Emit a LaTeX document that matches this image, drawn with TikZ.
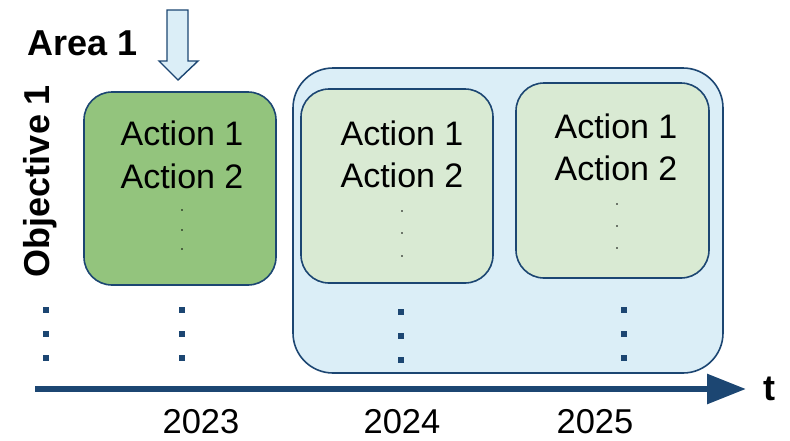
\documentclass[tikz,border=0pt]{standalone}
\usepackage{fontspec}
\setmainfont{Liberation Sans}
\usetikzlibrary{arrows.meta}
\definecolor{dblue}{HTML}{1C4672}
\definecolor{lblue}{HTML}{DBEEF7}
\definecolor{dgreen}{HTML}{93C47D}
\definecolor{lgreen}{HTML}{D9EAD3}
\tikzset{
  actbox/.style={draw=dblue, line width=1.6pt},
  acttext/.style={font=\fontsize{34}{42}\selectfont, align=center, inner sep=0pt},
  sdot/.style={fill=black, circle, inner sep=0pt, minimum size=1.8pt},
  bdot/.style={fill=dblue, inner sep=0pt, minimum size=6pt},
  lbl/.style={font=\fontsize{36}{40}\selectfont\bfseries, inner sep=0pt},
  yr/.style={font=\fontsize{34.5}{40}\selectfont, inner sep=0pt},
}
\begin{document}
\begin{tikzpicture}[x=1pt,y=-1pt]
\useasboundingbox (0,0) rectangle (790,440);
% outer blue box
\draw[actbox, fill=lblue, rounded corners=40pt] (293,68) rectangle (723,373);
% green box
\draw[actbox, fill=dgreen, rounded corners=28pt] (84,92) rectangle (276,285);
\draw[actbox, fill=lgreen, rounded corners=28pt] (301,89) rectangle (493,283);
\draw[actbox, fill=lgreen, rounded corners=28pt] (516,83) rectangle (709,278);
% texts
\node[acttext] (g1) at (182,133) {Action 1};
\node[acttext] (g2) at (182,176) {Action 2};
\node[acttext] (b1) at (402,133) {Action 1};
\node[acttext] (b2) at (402,175) {Action 2};
\node[acttext] (c1) at (616,126) {Action 1};
\node[acttext] (c2) at (616,168) {Action 2};
% small dots
\foreach \y [count=\i] in {210,230,249} \node[sdot] (gd\i) at (182,\y) {};
\foreach \y [count=\i] in {211,233,256} \node[sdot] (bd\i) at (402,\y) {};
\foreach \y [count=\i] in {204,226,248} \node[sdot] (cd\i) at (617,\y) {};
% big dots
\foreach \y [count=\i] in {310,334,358} {
  \node[bdot] (d0\i) at (46,\y) {};
  \node[bdot] (d1\i) at (182,\y) {};
  \node[bdot] (d3\i) at (624,\y) {};
}
\foreach \y [count=\i] in {312,336,360} \node[bdot] (d2\i) at (401,\y) {};
% labels
\node[lbl, anchor=base west] (area) at (27,55) {Area 1};
\node[lbl, rotate=90] (obj) at (40,181) {Objective 1};
% down arrow
\draw[line width=1.4pt, draw=dblue, fill=lblue, line join=miter]
  (167,10) -- (188,10) -- (188,61) -- (198,61) -- (178,80) -- (159,61) -- (167,61) -- cycle;
% timeline
\coordinate (t0) at (35,389);
\coordinate (t1) at (746,389);
\draw[dblue, line width=6pt, -{Triangle[length=39pt,width=29pt]}] (t0) -- (t1);
\node[lbl] (t) at (769,389) {t};
% years
\node[yr] (y23) at (201,422) {2023};
\node[yr] (y24) at (402,422) {2024};
\node[yr] (y25) at (595,422) {2025};
\end{tikzpicture}
\end{document}
